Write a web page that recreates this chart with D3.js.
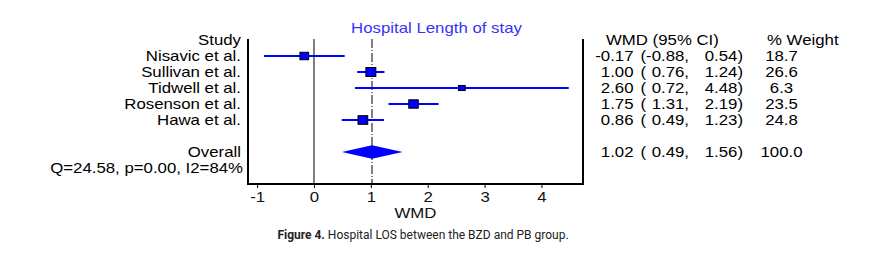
<!DOCTYPE html>
<html>
<head>
<meta charset="utf-8">
<script src="https://cdn.jsdelivr.net/npm/d3@7"></script>
<style>
  body { margin: 0; background: #fff; }
  svg text { font-family: "Liberation Sans", Arial, sans-serif; }
</style>
</head>
<body>
<script>
// DATA
const studies = ["Nisavic et al.", "Sullivan et al.", "Tidwell et al.", "Rosenson et al.", "Hawa et al."];
const wmd = [-0.17, 1.00, 2.60, 1.75, 0.86];
const lower = [-0.88, 0.76, 0.72, 1.31, 0.49];
const upper = [0.54, 1.24, 4.48, 2.19, 1.23];
const weight = [18.7, 26.6, 6.3, 23.5, 24.8];
const overallEst = 1.02, overallLower = 0.49, overallUpper = 1.56, overallWeight = 100.0;
const heterogeneity = "Q=24.58, p=0.00, I2=84%";
const xTicks = [-1, 0, 1, 2, 3, 4];

// LAYOUT
let width = 896;
let height = 265;
let frameLeft = 248, frameRight = 583, frameTop = 39, frameBottom = 184;
let sx = 1.2; // text in the figure is horizontally stretched

let svg = d3.select("body").append("svg")
    .attr("width", width)
    .attr("height", height);

let x = d3.scaleLinear().domain([-1.16, 4.73]).range([frameLeft, frameRight]);
let row = d3.scaleLinear().domain([0, 9]).range([40, 184]); // 0 = header, 1..5 studies, 7 overall, 8 Q

// plain hyphen for negatives, like the original
let locale = d3.formatLocale({ decimal: ".", thousands: ",", grouping: [3], currency: ["", ""], minus: "-" });
let f2 = locale.format(".2f");
let f1 = locale.format(".1f");
let fd = locale.format("d");

function label(str, px, py, anchor, color) {
    return svg.append("text")
        .attr("transform", "translate(" + px + "," + py + ") scale(" + sx + ",1)")
        .attr("text-anchor", anchor || "start")
        .style("font-size", "14px")
        .style("white-space", "pre")
        .attr("fill", color || "#000")
        .text(str);
}

// title
label("Hospital Length of stay", 436.5, 32.5, "middle", "#3535f5");

// left column
label("Study", 241, row(0) + 5, "end");
studies.forEach((s, i) => label(s, 241, row(i + 1) + 5, "end"));
label("Overall", 241, row(7) + 5, "end");
label(heterogeneity, 243, row(8) + 5, "end");

// right columns
label("WMD (95% CI)", 606, row(0) + 5, "start");
label("% Weight", 767, row(0) + 5, "start");

function statRow(r, est, lo, hi, w) {
    let y = row(r) + 5;
    label(f2(est), 633.5, y, "end");
    label("(", 640.5, y, "start");
    label(f2(lo) + ",", 689, y, "end");
    label(f2(hi) + ")", 743, y, "end");
    let ws = f1(w);
    label(" ".repeat(Math.max(0, 5 - ws.length)) + ws, 760.5, y, "start");
}
wmd.forEach((d, i) => statRow(i + 1, d, lower[i], upper[i], weight[i]));
statRow(7, overallEst, overallLower, overallUpper, overallWeight);

// frame (left, right, bottom)
svg.append("path")
    .attr("d", "M" + frameLeft + "," + frameTop + "V" + frameBottom + "H" + frameRight + "V" + frameTop)
    .attr("fill", "none")
    .attr("stroke", "#000")
    .attr("stroke-width", 2);

// zero line and overall effect line
svg.append("line")
    .attr("x1", x(0)).attr("x2", x(0))
    .attr("y1", frameTop).attr("y2", frameBottom)
    .attr("stroke", "#000").attr("stroke-width", 1);

svg.append("line")
    .attr("x1", x(overallEst)).attr("x2", x(overallEst))
    .attr("y1", frameTop).attr("y2", frameBottom)
    .attr("stroke", "#000").attr("stroke-width", 1)
    .attr("stroke-dasharray", "9,2,1,2");

// confidence intervals
svg.selectAll("line.ci")
    .data(wmd)
    .join("line")
    .attr("class", "ci")
    .attr("x1", (d, i) => x(lower[i]))
    .attr("x2", (d, i) => x(upper[i]))
    .attr("y1", (d, i) => row(i + 1))
    .attr("y2", (d, i) => row(i + 1))
    .attr("stroke", "#0000ff")
    .attr("stroke-width", 2);

// boxes sized by weight
let boxW = d3.scaleLinear().domain([6.3, 26.6]).range([6.7, 10]);
let boxH = d3.scaleLinear().domain([6.3, 26.6]).range([5, 9]);

svg.selectAll("rect.box")
    .data(wmd)
    .join("rect")
    .attr("class", "box")
    .attr("x", (d, i) => x(d) - boxW(weight[i]) / 2)
    .attr("y", (d, i) => row(i + 1) - boxH(weight[i]) / 2)
    .attr("width", (d, i) => boxW(weight[i]))
    .attr("height", (d, i) => boxH(weight[i]))
    .attr("fill", "#0000ff")
    .attr("stroke", "#000")
    .attr("stroke-width", 1);

// overall diamond
let yo = row(7);
svg.append("path")
    .attr("d", "M" + x(overallLower) + "," + yo +
        "L" + x(overallEst) + "," + (yo - 6.7) +
        "L" + x(overallUpper) + "," + yo +
        "L" + x(overallEst) + "," + (yo + 6.7) + "Z")
    .attr("fill", "#0000ff");

// x axis
let xAxis = d3.axisBottom(x).tickValues(xTicks).tickSize(4).tickSizeOuter(0).tickFormat(fd);
let gx = svg.append("g")
    .attr("transform", "translate(0," + frameBottom + ")")
    .call(xAxis);
gx.select(".domain").remove();
gx.selectAll(".tick line").attr("stroke", "#000");
gx.selectAll(".tick text")
    .attr("y", 18.5).attr("dy", 0)
    .attr("transform", "scale(" + sx + ",1)")
    .attr("fill", "#111")
    .style("font-size", "14px")
    .style("font-family", "'Liberation Sans', Arial, sans-serif");

label("WMD", (frameLeft + frameRight) / 2, 218, "middle", "#111");

// caption
let cap = svg.append("text")
    .attr("x", 423)
    .attr("y", 239)
    .attr("text-anchor", "middle")
    .style("font-family", "Roboto, sans-serif")
    .style("font-size", "12px")
    .attr("fill", "#222");
cap.append("tspan").style("font-weight", "bold").text("Figure 4.");
cap.append("tspan").text(" Hospital LOS between the BZD and PB group.");
</script>
</body>
</html>
